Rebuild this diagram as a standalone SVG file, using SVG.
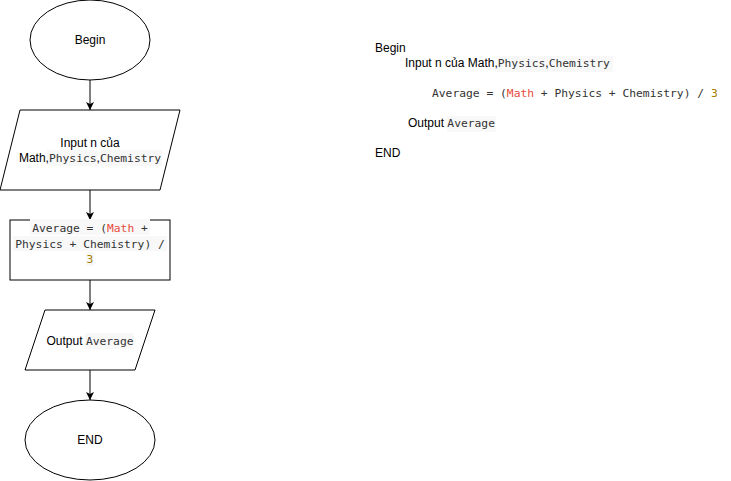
<svg xmlns="http://www.w3.org/2000/svg" width="731" height="481" viewBox="0 0 731 481">
<defs>
<marker id="ah" markerWidth="10" markerHeight="10" refX="9" refY="5" orient="auto" markerUnits="userSpaceOnUse">
<path d="M1,1 L9,5 L1,9 L3,5 Z" fill="#000"/>
</marker>
<style>
.shape{fill:#fff;stroke:#000;stroke-width:1}
.t{font-family:"Liberation Sans",Arial,sans-serif;font-size:12px;fill:#000}
.m{font-family:"DejaVu Sans Mono","Liberation Mono",monospace;font-size:11.3px;fill:#333}
.red{fill:#e74c3c}
.num{fill:#a67f00}
.hl{fill:#f8f8f8}
.conn{stroke:#000;stroke-width:1;fill:none;marker-end:url(#ah)}
</style>
</defs>
<rect width="731" height="481" fill="#fff"/>
<g id="connectors">
<line class="conn" x1="90" y1="80" x2="90" y2="110"/>
<line class="conn" x1="90" y1="190" x2="90" y2="220"/>
<line class="conn" x1="90" y1="280" x2="90" y2="310"/>
<line class="conn" x1="90" y1="370" x2="90" y2="400"/>
</g>
<g id="begin">
<ellipse class="shape" cx="90" cy="40" rx="60" ry="40"/>
<text class="t" x="90" y="44" text-anchor="middle">Begin</text>
</g>
<g id="input">
<polygon class="shape" points="20,110 180,110 160,190 0,190"/>
<rect class="hl" x="47" y="150" width="51" height="16"/>
<rect class="hl" x="100" y="150" width="62" height="16"/>
<text class="t" x="90" y="147" text-anchor="middle">Input n của</text>
<text x="90" y="162" text-anchor="middle"><tspan class="t">Math,</tspan><tspan class="m">Physics</tspan><tspan class="t">,</tspan><tspan class="m">Chemistry</tspan></text>
</g>
<g id="process">
<rect class="shape" x="10" y="220" width="160" height="60"/>
<rect class="hl" x="30" y="219" width="120" height="16"/>
<rect class="hl" x="13" y="236" width="154" height="15"/>
<rect class="hl" x="86" y="252" width="8" height="14"/>
<text class="m" x="90" y="232" text-anchor="middle">Average = (<tspan class="red">Math</tspan> +</text>
<text class="m" x="90" y="248" text-anchor="middle">Physics + Chemistry) /</text>
<text class="m num" x="90" y="263" text-anchor="middle">3</text>
</g>
<g id="output">
<polygon class="shape" points="45,310 155,310 135,370 25,370"/>
<rect class="hl" x="85" y="333" width="49" height="16"/>
<text x="90" y="345" text-anchor="middle"><tspan class="t">Output </tspan><tspan class="m">Average</tspan></text>
</g>
<g id="end">
<ellipse class="shape" cx="90" cy="440" rx="65" ry="40"/>
<text class="t" x="90" y="444" text-anchor="middle">END</text>
</g>
<g id="pseudocode">
<text class="t" x="375" y="52">Begin</text>
<rect class="hl" x="497" y="56" width="52" height="16"/>
<rect class="hl" x="551" y="56" width="62" height="16"/>
<text x="405" y="67"><tspan class="t">Input n của Math,</tspan><tspan class="m">Physics</tspan><tspan class="t">,</tspan><tspan class="m">Chemistry</tspan></text>
<text class="m" x="432" y="97">Average = (<tspan class="red">Math</tspan> + Physics + Chemistry) / <tspan class="num">3</tspan></text>
<rect class="hl" x="447" y="116" width="49" height="16"/>
<text x="408" y="127"><tspan class="t">Output </tspan><tspan class="m">Average</tspan></text>
<text class="t" x="375" y="157">END</text>
</g>
</svg>
